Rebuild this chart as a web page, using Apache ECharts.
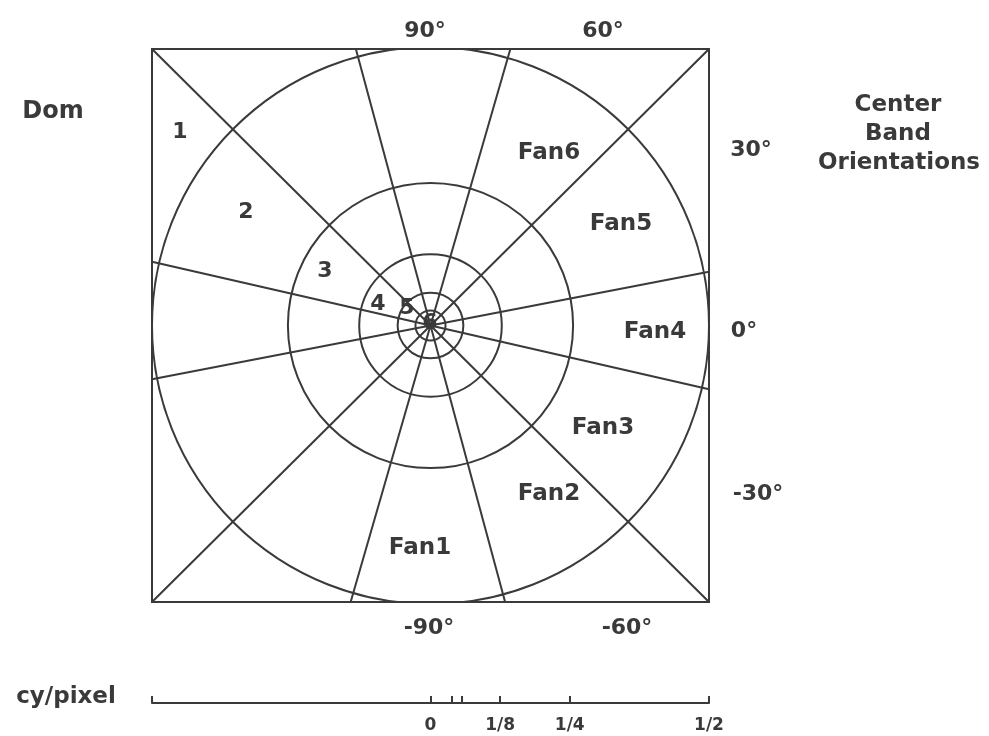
<!DOCTYPE html>
<html>
<head>
<meta charset="utf-8">
<script src="https://cdn.jsdelivr.net/npm/echarts@6/dist/echarts.min.js"></script>
<style>
html,body{margin:0;padding:0;background:#fff;}
#c{width:989px;height:736px;}
</style>
</head>
<body>
<div id="c"></div>
<script>
// ---- data ----
const ringRadii = [0.027, 0.059, 0.128, 0.256, 0.5];          // cy/pixel
const boundaryAngles = [11, 45, 74, 105, 135, 167];            // degrees, diameter lines
const scaleTicks = [-0.5, 0, 0.039, 0.056, 0.125, 0.25, 0.5];  // cy/pixel bar ticks
const scaleLabelValues = [0, 0.125, 0.25, 0.5];
const scaleLabelTexts = ['0', '1/8', '1/4', '1/2'];
const fanNames = ['Fan1', 'Fan2', 'Fan3', 'Fan4', 'Fan5', 'Fan6'];
const domNames = ['1', '2', '3', '4', '5', '6'];
const orientationTexts = ['90°', '60°', '30°', '0°', '-30°', '-90°', '-60°'];

const INK = '#3a3a3a';
const FONT = '"DejaVu Sans", sans-serif';

// diameter line endpoints clipped to the square [-0.5,0.5]^2
const lineData = boundaryAngles.map(a => {
  const r = a * Math.PI / 180;
  const c = Math.cos(r), s = Math.sin(r);
  const t = 0.5 / Math.max(Math.abs(c), Math.abs(s));
  return { coords: [[t * c, t * s], [-t * c, -t * s]] };
});

function txt(text, x, y, size) {
  return {
    type: 'text', x: x, y: y, z: 10,
    style: { text: text, fill: INK, font: 'bold ' + size + 'px ' + FONT,
             textAlign: 'center', textVerticalAlign: 'middle' }
  };
}

const fanPos = [[420, 548], [549, 494], [603, 428], [655, 332], [621, 224], [549, 153]];
const domPos = [[180, 132], [246, 212], [325, 271], [378, 304], [407, 308], [430, 323]];
const oriPos = [[425, 31], [603, 31], [751, 150], [744, 331], [758, 494], [429, 628], [627, 628]];

const graphics = [];
fanNames.forEach((n, i) => graphics.push(txt(n, fanPos[i][0], fanPos[i][1], 23)));
domNames.forEach((n, i) => graphics.push(txt(n, domPos[i][0], domPos[i][1], 22)));
orientationTexts.forEach((n, i) => graphics.push(txt(n, oriPos[i][0], oriPos[i][1], 22)));
graphics.push(txt('Dom', 53, 112, 24));
graphics.push(txt('Center', 898, 105, 23));
graphics.push(txt('Band', 898, 134, 23));
graphics.push(txt('Orientations', 899, 163, 23));
graphics.push(txt('cy/pixel', 66, 697, 23));

const option = {
  animation: false,
  backgroundColor: '#fff',
  grid: [
    { left: 152, top: 49, width: 557, height: 553, show: true,
      borderColor: INK, borderWidth: 2, backgroundColor: 'transparent' },
    { left: 152, top: 688, width: 557, height: 15 }
  ],
  xAxis: [
    { gridIndex: 0, type: 'value', min: -0.5, max: 0.5, show: false },
    { gridIndex: 1, type: 'value', min: -0.5, max: 0.5, position: 'bottom',
      axisLine: { show: true, onZero: false, lineStyle: { color: INK, width: 2 } },
      axisTick: { show: true, inside: true, length: 7, lineStyle: { color: INK, width: 2 },
                  customValues: scaleTicks },
      splitLine: { show: false },
      axisLabel: { show: true, customValues: scaleLabelValues, margin: 14,
                   color: INK, fontWeight: 'bold', fontSize: 17, fontFamily: FONT,
                   formatter: v => {
                     const i = scaleLabelValues.findIndex(s => Math.abs(s - v) < 1e-9);
                     return i >= 0 ? scaleLabelTexts[i] : '';
                   } } }
  ],
  yAxis: [
    { gridIndex: 0, type: 'value', min: -0.5, max: 0.5, show: false },
    { gridIndex: 1, type: 'value', min: 0, max: 1, show: false }
  ],
  graphic: graphics,
  series: [
    {
      type: 'custom', xAxisIndex: 0, yAxisIndex: 0, clip: true,
      data: ringRadii.map(r => [0, 0, r]),
      renderItem: function (params, api) {
        const c = api.coord([api.value(0), api.value(1)]);
        const rr = api.size([api.value(2), api.value(2)])[0];
        return { type: 'circle', shape: { cx: c[0], cy: c[1], r: rr },
                 style: { fill: null, stroke: INK, lineWidth: 2 } };
      },
      silent: true
    },
    {
      type: 'lines', coordinateSystem: 'cartesian2d', xAxisIndex: 0, yAxisIndex: 0,
      data: lineData,
      lineStyle: { color: INK, width: 2, opacity: 1 },
      silent: true
    }
  ]
};

echarts.init(document.getElementById('c')).setOption(option);
</script>
</body>
</html>
